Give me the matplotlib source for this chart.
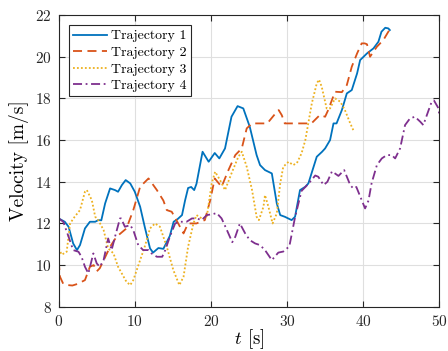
import numpy as np
import matplotlib
matplotlib.use("Agg")
import matplotlib.pyplot as plt

# 字体：仿 LaTeX / MATLAB 风格
plt.rcParams['font.family'] = 'serif'
plt.rcParams['font.serif'] = ['cmr10', 'DejaVu Serif']
plt.rcParams['mathtext.fontset'] = 'cm'
plt.rcParams['axes.unicode_minus'] = False
plt.rcParams['axes.formatter.use_mathtext'] = True

# 轨迹1 (蓝色实线)
t1 = [0, 0.8, 1.3, 1.9, 2.4, 2.8, 3.45, 4.1, 4.8, 5.2, 5.6, 6.1, 6.75, 7.4, 7.8, 8.3, 8.8, 9.4,
      10.0, 10.7, 11.3, 12.0, 12.4, 13.1, 13.75, 14.6, 15.1, 15.6, 16.2, 16.6, 17.0, 17.4, 17.8,
      18.1, 18.9, 19.7, 20.5, 21.1, 21.85, 22.7, 23.5, 24.25, 25.1, 26.0, 26.45, 27.1, 28.0,
      28.65, 29.1, 29.7, 30.6, 31.05, 31.7, 32.4, 32.8, 33.9, 34.6, 35.0, 35.65, 36.1, 36.5,
      37.2, 37.85, 38.5, 39.2, 39.6, 40.5, 41.35, 42.0, 42.4, 42.9, 43.3, 43.5]
v1 = [12.24, 12.08, 11.84, 11.04, 10.72, 10.96, 11.76, 12.08, 12.08, 12.16, 12.15, 12.96, 13.68,
      13.6, 13.52, 13.84, 14.08, 13.92, 13.52, 12.8, 11.84, 10.8, 10.6, 10.82, 10.78, 11.4, 12.08,
      12.2, 12.4, 13.1, 13.7, 13.75, 13.6, 13.9, 15.44, 14.96, 15.38, 15.12, 15.6, 17.12, 17.63,
      17.52, 16.64, 15.28, 14.8, 14.56, 14.4, 12.96, 12.4, 12.32, 12.16, 12.32, 13.6, 13.76,
      13.92, 15.2, 15.44, 15.6, 16.0, 16.8, 16.8, 17.44, 18.24, 18.4, 19.2, 19.84, 20.16, 20.4,
      20.72, 21.2, 21.39, 21.36, 21.28]

# 轨迹2 (橙色虚线)
t2 = [0, 0.17, 0.6, 1.2, 1.8, 2.5, 3.45, 4.1, 4.6, 5.0, 5.4, 6.0, 6.75, 7.6, 8.9, 9.8, 10.7, 11.8,
      12.9, 13.75, 14.2, 14.85, 15.7, 16.4, 17.0, 18.1, 19.2, 19.9, 20.5, 21.4, 22.3, 23.2, 24.05,
      24.7, 25.4, 27.4, 28.3, 28.9, 29.3, 29.7, 33.2, 34.3, 35.0, 35.4, 36.3, 37.2, 37.85, 38.5,
      39.2, 39.8, 40.2, 40.5, 40.9, 41.8, 42.65, 43.3, 43.75]
v2 = [10.2, 9.44, 9.1, 9.04, 9.02, 9.1, 9.28, 9.92, 10.0, 9.7, 9.85, 10.3, 10.88, 11.36, 11.76,
      12.64, 13.76, 14.16, 13.6, 13.1, 12.64, 12.56, 12.0, 11.52, 12.0, 12.0, 12.16, 13.1, 14.16,
      13.76, 14.56, 15.28, 15.6, 16.56, 16.8, 16.8, 17.2, 17.44, 17.2, 16.8, 16.8, 17.2, 17.12,
      17.44, 18.32, 18.3, 18.64, 19.52, 20.16, 20.64, 20.64, 20.6, 20.0, 20.48, 20.8, 21.2, 21.4]

# 轨迹3 (黄色点线)
t3 = [0, 0.4, 1.05, 1.5, 2.1, 2.8, 3.45, 3.7, 4.35, 4.8, 5.2, 5.9, 6.5, 7.2, 7.8, 8.9, 9.4, 9.8,
      10.7, 11.3, 12.0, 12.65, 13.3, 14.2, 15.06, 15.85, 16.4, 17.0, 17.7, 18.1, 18.8, 19.45,
      20.1, 20.55, 21.2, 21.85, 22.7, 23.6, 24.05, 24.7, 25.4, 26.0, 26.3, 26.9, 27.1, 27.55,
      28.1, 28.65, 29.1, 29.5, 30.2, 30.8, 31.3, 31.9, 32.4, 33.25, 33.9, 34.2, 34.55, 35.2,
      35.65, 36.3, 37.0, 37.6, 38.3, 38.7]
v3 = [10.8, 10.5, 10.64, 12.0, 12.32, 12.64, 13.52, 13.6, 13.12, 12.32, 12.16, 11.68, 10.8, 10.56,
      9.92, 9.2, 9.04, 9.28, 10.24, 10.88, 11.76, 12.0, 11.84, 10.88, 9.76, 9.04, 9.44, 10.88,
      12.0, 12.4, 12.24, 12.3, 13.92, 14.48, 14.08, 13.6, 14.4, 15.2, 15.44, 14.72, 13.6, 12.32,
      12.16, 12.8, 13.36, 12.8, 12.0, 12.48, 13.92, 14.72, 14.96, 14.8, 14.9, 15.36, 16.0, 17.76,
      18.72, 18.9, 18.56, 17.52, 17.52, 18.0, 17.84, 17.44, 16.8, 16.48]

# 轨迹4 (紫色点划线)
t4 = [0, 0.6, 1.3, 1.9, 2.6, 3.0, 3.45, 3.9, 4.55, 5.0, 5.4, 5.9, 6.5, 6.95, 7.4, 8.05, 8.2, 8.7,
      9.4, 9.8, 10.45, 11.1, 11.8, 12.2, 12.9, 13.6, 14.0, 14.6, 15.3, 15.9, 16.8, 17.5, 18.1,
      18.8, 19.45, 20.3, 20.75, 21.4, 22.1, 22.8, 23.2, 23.8, 24.5, 25.1, 25.8, 26.45, 27.1, 28.0,
      28.85, 29.5, 30.3, 31.05, 31.9, 32.8, 33.7, 34.1, 34.8, 35.3, 35.9, 36.75, 37.5, 38.3, 38.7,
      39.1, 40.25, 40.7, 41.1, 41.8, 42.45, 43.1, 43.75, 44.2, 44.85, 45.5, 46.15, 46.8, 47.5,
      47.9, 48.6, 49.0, 49.3, 49.9, 50.0]
v4 = [12.24, 12.08, 11.36, 10.72, 10.64, 10.4, 9.92, 9.6, 10.56, 10.08, 9.92, 10.24, 11.28, 10.72,
      11.36, 12.24, 12.24, 11.84, 11.92, 11.68, 10.96, 10.72, 10.72, 10.56, 10.4, 10.4, 10.72,
      11.36, 12.0, 12.08, 12.08, 12.24, 12.24, 12.16, 12.4, 12.45, 12.5, 12.24, 11.68, 11.1, 11.36,
      12.0, 11.52, 11.2, 11.04, 10.96, 10.72, 10.24, 10.6, 10.65, 10.9, 12.3, 13.56, 13.9, 14.3,
      14.24, 13.84, 14.0, 14.5, 14.28, 14.56, 13.84, 13.68, 13.75, 12.72, 13.1, 13.92, 14.8,
      15.12, 15.28, 15.28, 15.12, 15.6, 16.72, 17.04, 17.12, 16.88, 16.72, 17.44, 17.84, 17.9,
      17.52, 17.2]

labels = ['Trajectory 1', 'Trajectory 2', 'Trajectory 3', 'Trajectory 4']
colors = ['#0072BD', '#D95319', '#EDB120', '#7E2F8E']

fig = plt.figure(figsize=(4.48, 3.51), dpi=100)
ax = fig.add_axes([0.131, 0.126, 0.8496, 0.8311])

ax.plot(t1, v1, color=colors[0], lw=1.3, ls='-', label=labels[0])
ax.plot(t2, v2, color=colors[1], lw=1.3, ls=(0, (5, 3)), label=labels[1])
ax.plot(t3, v3, color=colors[2], lw=1.3, ls=(0, (1, 1.2)), label=labels[2])
ax.plot(t4, v4, color=colors[3], lw=1.3, ls=(0, (5, 2, 1, 2)), label=labels[3])

ax.set_xlim(0, 50)
ax.set_ylim(8, 22)
ax.set_xticks(np.arange(0, 51, 10))
ax.set_yticks(np.arange(8, 23, 2))
ax.grid(True, color='#dfdfdf', lw=0.8)
ax.set_axisbelow(True)
ax.tick_params(direction='in', top=True, right=True, length=4, width=0.8,
               labelsize=11, colors='#262626', pad=5)
for s in ax.spines.values():
    s.set_color('#262626')
    s.set_linewidth(0.8)

ax.set_xlabel('$t$ [s]', fontsize=13.5, labelpad=-1)
ax.set_ylabel('Velocity [m/s]', fontsize=14, labelpad=4)

leg = ax.legend(loc='upper left', fontsize=10, frameon=True, fancybox=False,
                edgecolor='#262626', framealpha=1, borderpad=0.3, labelspacing=0.28,
                handlelength=2.4, handletextpad=0.35, borderaxespad=0.75)
leg.get_frame().set_linewidth(0.8)

plt.savefig('out.png', dpi=100)
